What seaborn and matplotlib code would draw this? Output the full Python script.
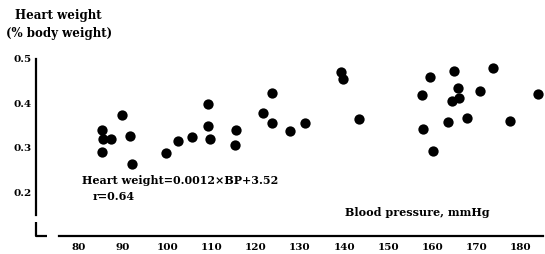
import matplotlib
matplotlib.use('Agg')
import matplotlib.pyplot as plt
import seaborn as sns
import pandas as pd

# ============================================
# DATA
# ============================================
bp = [85.3, 85.5, 87.2, 85.2, 89.7, 91.5, 92.1, 99.7, 102.5, 105.5,
      109.3, 109.3, 109.6, 115.5, 115.4, 121.6, 123.6, 123.7, 127.7, 131.1,
      139.4, 139.7, 143.4, 157.6, 157.8, 159.5, 160.1, 163.6, 164.3, 164.8,
      165.7, 166.0, 167.9, 170.7, 173.8, 177.5, 183.9]
heart_wt = [0.340, 0.320, 0.320, 0.291, 0.374, 0.327, 0.263, 0.288, 0.315, 0.325,
            0.398, 0.350, 0.320, 0.340, 0.307, 0.378, 0.423, 0.356, 0.338, 0.357,
            0.470, 0.455, 0.364, 0.419, 0.342, 0.459, 0.294, 0.358, 0.406, 0.472,
            0.434, 0.412, 0.367, 0.427, 0.480, 0.361, 0.422]

x_ticks = [80, 90, 100, 110, 120, 130, 140, 150, 160, 170, 180]
y_ticks = [0.2, 0.3, 0.4, 0.5]

df = pd.DataFrame({'bp': bp, 'hw': heart_wt})

sns.set_style('white')
plt.rcParams['font.family'] = ['DejaVu Serif']
plt.rcParams['font.weight'] = 'bold'
plt.rcParams['text.color'] = 'black'
plt.rcParams['xtick.color'] = 'black'
plt.rcParams['ytick.color'] = 'black'

W, H = 545, 254
fig = plt.figure(figsize=(W / 100, H / 100), dpi=100)
ax = fig.add_axes([36 / W, 18 / H, (543 - 36) / W, (236 - 59) / H])

sns.scatterplot(data=df, x='bp', y='hw', ax=ax, s=55, color='black',
                edgecolor='black', linewidth=0, clip_on=False, legend=False)

ax.set_xlim(70.3, 185.0)
ax.set_ylim(0.102, 0.5)

# broken axes like the original
for side in ['top', 'right']:
    ax.spines[side].set_visible(False)
ax.spines['left'].set_bounds(0.149, 0.5)
ax.spines['bottom'].set_bounds(75.5, 185.0)
for side in ['left', 'bottom']:
    ax.spines[side].set_linewidth(1.6)
    ax.spines[side].set_color('black')
ax.plot([70.3, 70.3, 72.8], [0.134, 0.102, 0.102], color='black', lw=1.6,
        clip_on=False, solid_capstyle='butt')

ax.set_xticks(x_ticks)
ax.set_yticks(y_ticks)
ax.set_yticklabels([f'{v:.1f}' for v in y_ticks])
ax.tick_params(direction='in', length=4, width=1, labelsize=7.5, colors='black', pad=3)
ax.tick_params(axis='x', pad=5)
ax.set_xlabel('')
ax.set_ylabel('')

ax.text(15 / W, 1 - 15 / H, 'Heart weight', transform=fig.transFigure, fontsize=8.5,
        fontweight='bold', va='center')
ax.text(6 / W, 1 - 33 / H, '(% body weight)', transform=fig.transFigure, fontsize=8.5,
        fontweight='bold', va='center')
ax.text(82 / W, 1 - 181 / H, 'Heart weight=0.0012\u00d7BP+3.52', transform=fig.transFigure,
        fontsize=8, fontweight='bold', va='center')
ax.text(93 / W, 1 - 197 / H, 'r=0.64', transform=fig.transFigure,
        fontsize=8, fontweight='bold', va='center')
ax.text(345 / W, 1 - 213 / H, 'Blood pressure, mmHg', transform=fig.transFigure,
        fontsize=8, fontweight='bold', va='center')

fig.savefig('out.png', dpi=100)
